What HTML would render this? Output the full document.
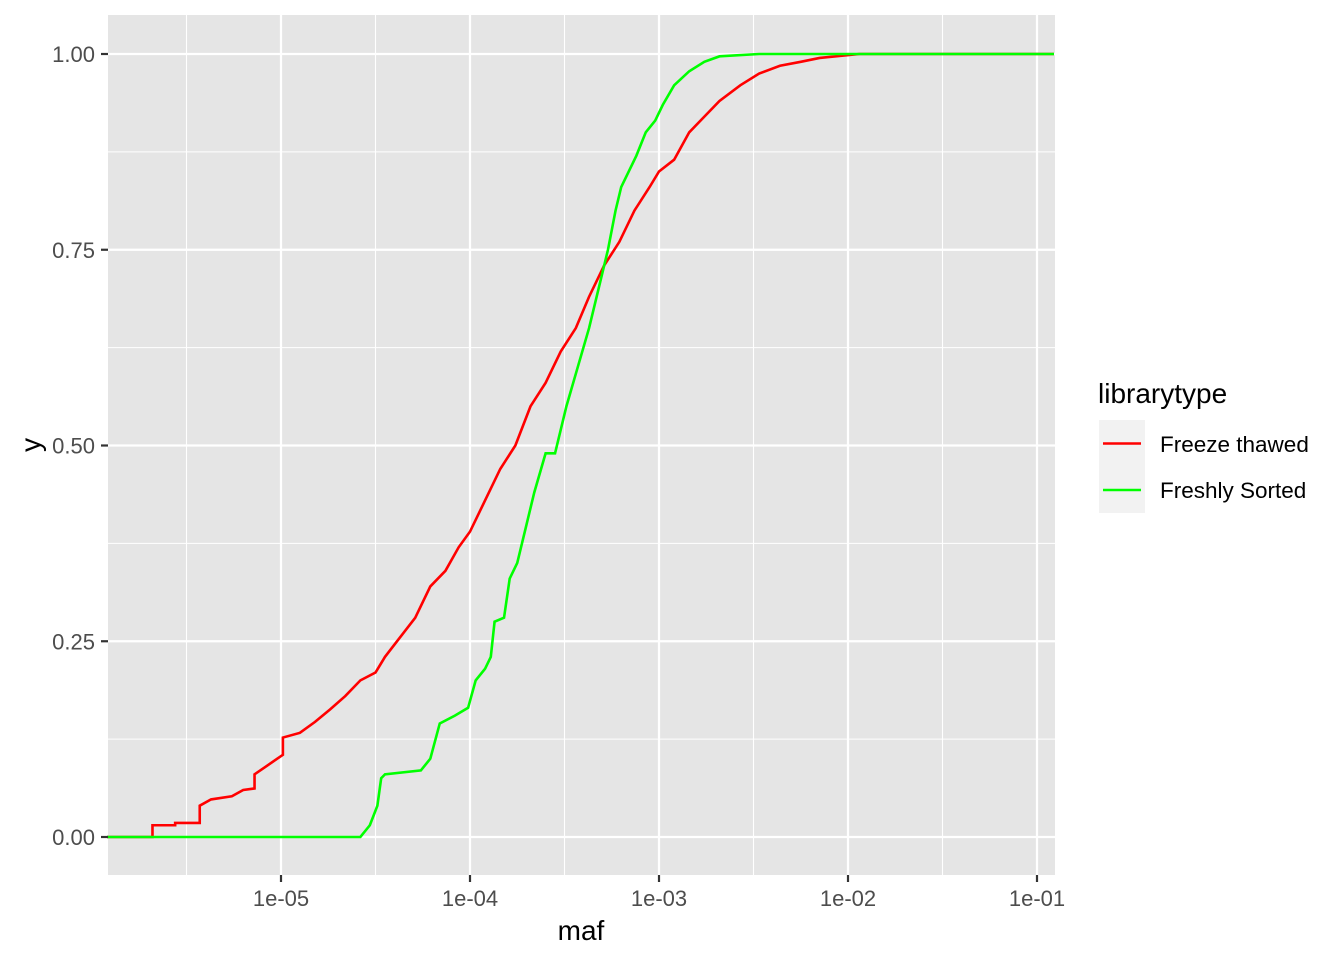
<!DOCTYPE html>
<html><head><meta charset="utf-8"><style>
body{margin:0;background:#fff;font-family:"Liberation Sans",sans-serif}
</style></head><body>
<svg id="chart" width="1344" height="960" xmlns="http://www.w3.org/2000/svg">
<rect x="108" y="15" width="947" height="860" fill="#e5e5e5"/>
<g id="grid"></g>
<g id="series"></g>
<g id="axes" font-family="Liberation Sans, sans-serif"></g>
<text x="581" y="940" font-size="28" text-anchor="middle" fill="#000">maf</text>
<text x="0" y="0" font-size="28" text-anchor="middle" fill="#000" transform="translate(40,445) rotate(-90)">y</text>
<g>
<text x="1098" y="403" font-size="28" fill="#000">librarytype</text>
<rect x="1099" y="420" width="46" height="47" fill="#f2f2f2"/>
<line x1="1103" y1="443.5" x2="1141" y2="443.5" stroke="#ff0000" stroke-width="2.6"/>
<text x="1160" y="452" font-size="22.5" fill="#000">Freeze thawed</text>
<rect x="1099" y="467" width="46" height="46" fill="#f2f2f2"/>
<line x1="1103" y1="490" x2="1141" y2="490" stroke="#00ff00" stroke-width="2.6"/>
<text x="1160" y="498" font-size="22.5" fill="#000">Freshly Sorted</text>
</g>
</svg>
<script>
const xTickLabels=["1e-05","1e-04","1e-03","1e-02","1e-01"];
const xTickLogs=[-5,-4,-3,-2,-1];
const yTicks=[0,0.25,0.5,0.75,1];
const yTickLabels=["0.00","0.25","0.50","0.75","1.00"];
const redLog=[-5.92,-5.68,-5.68,-5.56,-5.56,-5.43,-5.43,-5.37,-5.26,-5.20,-5.14,-5.14,-5.08,-5.02,-4.99,-4.99,-4.90,-4.82,-4.74,-4.66,-4.58,-4.50,-4.45,-4.37,-4.29,-4.21,-4.13,-4.06,-4.00,-3.92,-3.84,-3.76,-3.68,-3.60,-3.52,-3.44,-3.37,-3.29,-3.21,-3.13,-3.05,-3.00,-2.92,-2.84,-2.76,-2.68,-2.57,-2.47,-2.36,-2.25,-2.15,-1.94,-0.91];
const redY=[0,0,0.015,0.015,0.018,0.018,0.04,0.048,0.052,0.06,0.062,0.08,0.09,0.1,0.105,0.127,0.133,0.147,0.163,0.18,0.2,0.21,0.23,0.255,0.28,0.32,0.34,0.37,0.39,0.43,0.47,0.5,0.55,0.58,0.62,0.65,0.69,0.73,0.76,0.8,0.83,0.85,0.865,0.9,0.92,0.94,0.96,0.975,0.985,0.99,0.995,1.0,1.0];
const greenLog=[-5.92,-4.58,-4.53,-4.49,-4.47,-4.45,-4.26,-4.21,-4.16,-4.08,-4.01,-3.97,-3.92,-3.89,-3.87,-3.82,-3.79,-3.75,-3.70,-3.66,-3.60,-3.55,-3.49,-3.43,-3.37,-3.32,-3.27,-3.23,-3.20,-3.12,-3.07,-3.02,-2.98,-2.92,-2.84,-2.76,-2.68,-2.47,-0.91];
const greenY=[0,0,0.015,0.04,0.075,0.08,0.085,0.1,0.145,0.155,0.165,0.2,0.215,0.23,0.275,0.28,0.33,0.35,0.4,0.44,0.49,0.49,0.55,0.6,0.65,0.7,0.75,0.8,0.83,0.87,0.9,0.915,0.935,0.96,0.978,0.99,0.997,1.0,1.0];

const NS="http://www.w3.org/2000/svg";
const X=l=>281+(l+5)*189;
const Y=v=>837-v*783;
const grid=document.getElementById('grid'),axes=document.getElementById('axes'),series=document.getElementById('series');
function mk(tag,attrs,parent){const e=document.createElementNS(NS,tag);for(const k in attrs)e.setAttribute(k,attrs[k]);parent.appendChild(e);return e;}
for(let i=0;i<yTicks.length-1;i++){const v=(yTicks[i]+yTicks[i+1])/2;
 const l=mk('line',{x1:108,x2:1055,y1:Y(v),y2:Y(v),stroke:'#fff','stroke-width':1.1},grid);
 
 }
for(let l=-5.5;l<=-0.5;l+=1){const e=mk('line',{x1:X(l),x2:X(l),y1:15,y2:875,stroke:'#fff','stroke-width':1.1},grid);
 
 }
yTicks.forEach((v,i)=>{const e=mk('line',{x1:108,x2:1055,y1:Y(v),y2:Y(v),stroke:'#fff','stroke-width':2.2},grid);
 
 
 mk('line',{x1:101,x2:108,y1:Y(v),y2:Y(v),stroke:'#333','stroke-width':2.2},axes);
 const t=mk('text',{x:95,y:Y(v)+8,'font-size':22,'text-anchor':'end',fill:'#4d4d4d'},axes);t.textContent=yTickLabels[i];
 
 });
xTickLogs.forEach((l,i)=>{const e=mk('line',{x1:X(l),x2:X(l),y1:15,y2:875,stroke:'#fff','stroke-width':2.2},grid);
 
 
 mk('line',{x1:X(l),x2:X(l),y1:875,y2:882,stroke:'#333','stroke-width':2.2},axes);
 const t=mk('text',{x:X(l),y:906,'font-size':22,'text-anchor':'middle',fill:'#4d4d4d'},axes);t.textContent=xTickLabels[i];
 
 });
function poly(xs,ys){let d='M'+X(xs[0])+','+Y(ys[0]);for(let i=1;i<xs.length;i++){d+=' L'+X(xs[i])+','+Y(ys[i]);}return d;}
const r=mk('path',{d:poly(redLog,redY),fill:'none',stroke:'#ff0000','stroke-width':2.6},series);


const g=mk('path',{d:poly(greenLog,greenY),fill:'none',stroke:'#00ff00','stroke-width':2.6},series);


</script>
</body></html>
